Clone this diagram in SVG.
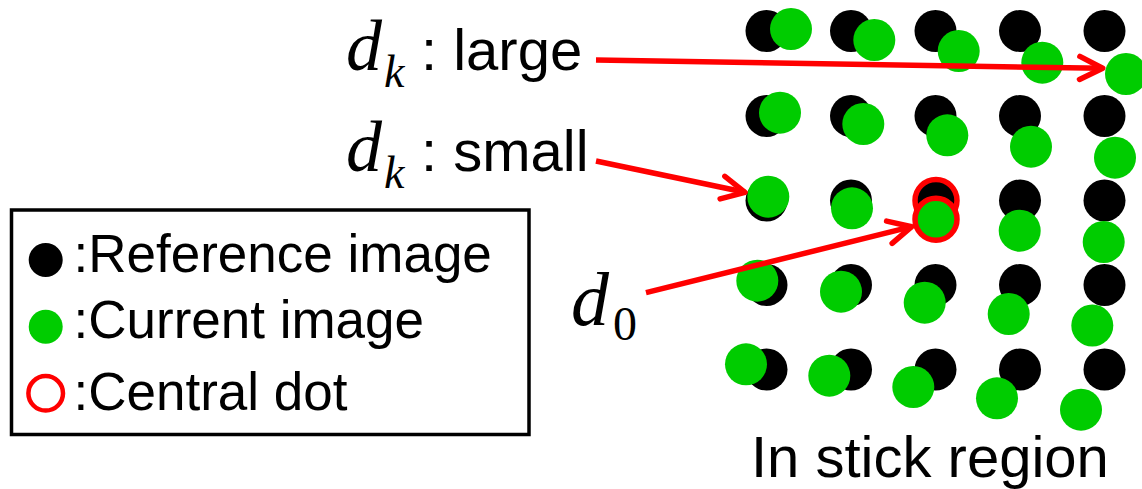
<svg xmlns="http://www.w3.org/2000/svg" width="1142" height="489" viewBox="0 0 1142 489">
<style>
.mi{font-family:"Liberation Serif","Times New Roman",serif;font-style:italic;fill:#000}
.num{font-family:"Liberation Serif","Times New Roman",serif;fill:#000}
.lbl{font-family:"Liberation Sans",Arial,sans-serif;font-size:58px;fill:#000}
.leg{font-family:"Liberation Sans",Arial,sans-serif;font-size:53px;fill:#000}
.ref{fill:#000}
.cur{fill:#00cc00}
.ring{fill:none;stroke:#ff0000;stroke-width:5.5}
.arrow{stroke:#ff0000;stroke-width:5.5;fill:none;marker-end:url(#chev)}
</style>
<defs>
<marker id="chev" markerUnits="userSpaceOnUse" markerWidth="40" markerHeight="40" viewBox="-30 -20 40 40" refX="0" refY="0" orient="auto" overflow="visible">
<path d="M-23,-11.5 L0,0 L-23,11.5" fill="none" stroke="#ff0000" stroke-width="5.5" stroke-linecap="round" stroke-linejoin="round"/>
</marker>
</defs>
<rect width="1142" height="489" fill="#fff"/>

<g id="reference-dots">
<circle class="ref" cx="766.5" cy="31" r="21"/><circle class="ref" cx="851" cy="31" r="21"/><circle class="ref" cx="935.5" cy="31" r="21"/><circle class="ref" cx="1020" cy="31" r="21"/><circle class="ref" cx="1104.5" cy="31" r="21"/>
<circle class="ref" cx="766.5" cy="116" r="21"/><circle class="ref" cx="851" cy="116" r="21"/><circle class="ref" cx="935.5" cy="116" r="21"/><circle class="ref" cx="1020" cy="116" r="21"/><circle class="ref" cx="1104.5" cy="116" r="21"/>
<circle class="ref" cx="766.5" cy="200.5" r="21"/><circle class="ref" cx="851" cy="200.5" r="21"/><circle class="ref" cx="935.5" cy="200.5" r="21"/><circle class="ref" cx="1020" cy="200.5" r="21"/><circle class="ref" cx="1104.5" cy="200.5" r="21"/>
<circle class="ref" cx="766.5" cy="285" r="21"/><circle class="ref" cx="851" cy="285" r="21"/><circle class="ref" cx="935.5" cy="285" r="21"/><circle class="ref" cx="1020" cy="285" r="21"/><circle class="ref" cx="1104.5" cy="285" r="21"/>
<circle class="ref" cx="766.5" cy="369.5" r="21"/><circle class="ref" cx="851" cy="369.5" r="21"/><circle class="ref" cx="935.5" cy="369.5" r="21"/><circle class="ref" cx="1020" cy="369.5" r="21"/><circle class="ref" cx="1104.5" cy="369.5" r="21"/>
</g>

<g id="central-reference-dot">
<circle class="ring" cx="936" cy="200.5" r="21"/>
</g>

<g id="current-dots">
<circle class="cur" cx="791" cy="29" r="21"/><circle class="cur" cx="874.3" cy="40" r="21"/><circle class="cur" cx="958.7" cy="51" r="21"/><circle class="cur" cx="1042.3" cy="62.7" r="21"/><circle class="cur" cx="1126" cy="74" r="21"/>
<circle class="cur" cx="780" cy="112.7" r="21"/><circle class="cur" cx="863.3" cy="124" r="21"/><circle class="cur" cx="947.3" cy="135.3" r="21"/><circle class="cur" cx="1031" cy="146.7" r="21"/><circle class="cur" cx="1115" cy="157.7" r="21"/>
<circle class="cur" cx="768.3" cy="196.7" r="21"/><circle class="cur" cx="852" cy="208.3" r="21"/><circle class="cur" cx="1019.7" cy="230.7" r="21"/><circle class="cur" cx="1103.7" cy="242" r="21"/>
<circle class="cur" cx="757.3" cy="280.7" r="21"/><circle class="cur" cx="841" cy="291.7" r="21"/><circle class="cur" cx="924.7" cy="302.7" r="21"/><circle class="cur" cx="1008.7" cy="314" r="21"/><circle class="cur" cx="1092.3" cy="325.5" r="21"/>
<circle class="cur" cx="746" cy="364.3" r="21"/><circle class="cur" cx="829.3" cy="375.7" r="21"/><circle class="cur" cx="913.3" cy="387" r="21"/><circle class="cur" cx="997" cy="398.3" r="21"/><circle class="cur" cx="1081" cy="409.7" r="21"/>
</g>

<g id="central-current-dot">
<circle class="cur" cx="936" cy="219.3" r="21"/>
<circle class="ring" cx="936" cy="219.3" r="21"/>
</g>

<g id="label-dk-large">
<text class="mi" x="346" y="70" font-size="72">d</text>
<text class="mi" x="384" y="87" font-size="46">k</text>
<text class="lbl" x="421" y="70">: large</text>
</g>

<g id="label-dk-small">
<text class="mi" x="346" y="171" font-size="72">d</text>
<text class="mi" x="384" y="188" font-size="46">k</text>
<text class="lbl" x="421" y="171">: small</text>
</g>

<g id="label-d0">
<text class="mi" x="571" y="325" font-size="76">d</text>
<text class="num" x="613" y="340" font-size="48">0</text>
</g>

<g id="legend">
<rect x="11.5" y="210" width="517.5" height="224.5" fill="none" stroke="#000" stroke-width="3.5"/>
<circle class="ref" cx="45.7" cy="260" r="17"/>
<text class="leg" x="73.5" y="271.7">:Reference image</text>
<circle class="cur" cx="45.7" cy="326.7" r="17"/>
<text class="leg" x="73.5" y="338.3">:Current image</text>
<circle cx="45.7" cy="393.3" r="17.3" fill="none" stroke="#ff0000" stroke-width="4.5"/>
<text class="leg" x="73.5" y="410">:Central dot</text>
</g>

<g id="caption">
<text class="lbl" x="751" y="477" font-size="59">In stick region</text>
</g>

<g id="connectors">
<line class="arrow" x1="596" y1="60" x2="1102.7" y2="68.3"/>
<line class="arrow" x1="596" y1="161" x2="745" y2="192.3"/>
<line class="arrow" x1="646" y1="292.7" x2="911.7" y2="226.7"/>
</g>
</svg>
